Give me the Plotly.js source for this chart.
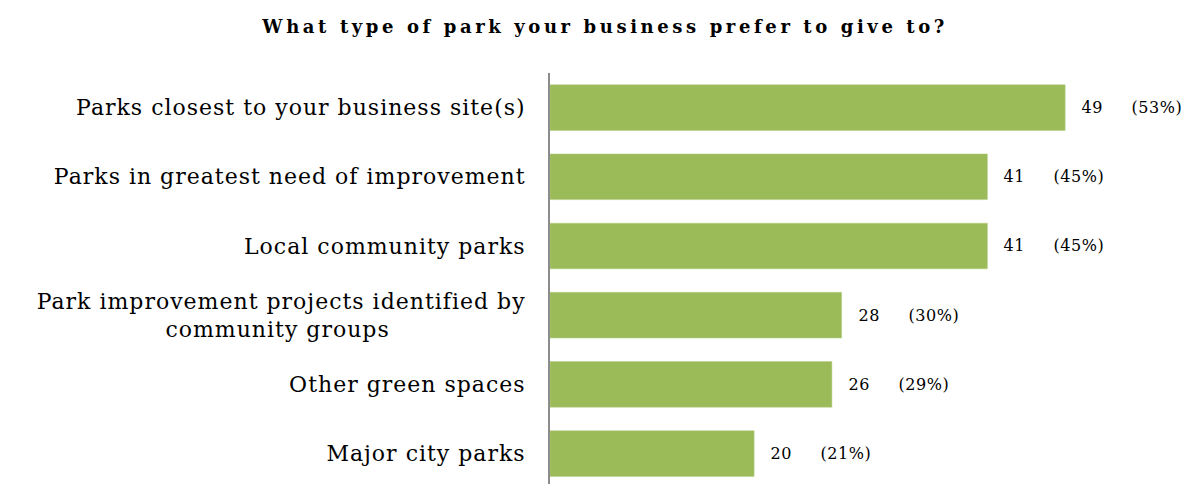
<!DOCTYPE html>
<html>
<head>
<meta charset="utf-8">
<script src="https://cdn.plot.ly/plotly-3.0.1.min.js"></script>
<style>
  html, body { margin: 0; padding: 0; background: #fff; }
  #chart { width: 1196px; height: 484px; }
  #chart .ytick text { letter-spacing: 1px; }
  #chart .gtitle { letter-spacing: 3.6px; }
  #chart .annotation-text { letter-spacing: 0.6px; }
</style>
</head>
<body>
<div id="chart"></div>
<script>
// Data (top to bottom)
const categories = [
  "Parks closest to your business site(s)",
  "Parks in greatest need of improvement",
  "Local community parks",
  "Park improvement projects identified by<br>community groups",
  "Other green spaces",
  "Major city parks"
];
const counts = [49, 41, 41, 28, 26, 20];
const percents = [53, 45, 45, 30, 29, 21];

// second line of the wrapped label is centred under the first line
const NB = "\u00A0";
const tickText = categories.map(c => c.replace(/<br>(.*)$/, (m, s) => "<br>" + s + NB.repeat(17)));

const labelText = counts.map((c, i) => c + NB.repeat(5) + "(" + percents[i] + "%)");

const trace = {
  type: "bar",
  orientation: "h",
  y: categories,
  x: percents,
  marker: { color: "#9BBB59", line: { color: "#B4CC84", width: 0.5 } },
  width: 0.66,
  hoverinfo: "skip"
};

const annotations = categories.map((cat, i) => ({
  x: percents[i],
  y: cat,
  xref: "x",
  yref: "y",
  text: labelText[i],
  showarrow: false,
  xanchor: "left",
  yanchor: "middle",
  xshift: 18,
  font: { family: "DejaVu Serif", size: 16, color: "#000" }
}));

const layout = {
  width: 1196,
  height: 484,
  margin: { l: 550, r: 0, t: 73, b: 0 },
  paper_bgcolor: "#ffffff",
  plot_bgcolor: "#ffffff",
  showlegend: false,
  title: {
    text: "<b>What type of park your business prefer to give to?</b>",
    font: { family: "DejaVu Serif", size: 18, color: "#000" },
    xref: "container",
    x: 0.506,
    xanchor: "center",
    yref: "container",
    y: 0.944,
    yanchor: "middle"
  },
  xaxis: {
    range: [0, 66.46],
    showgrid: false,
    zeroline: false,
    showline: false,
    showticklabels: false,
    ticks: ""
  },
  yaxis: {
    type: "category",
    categoryorder: "array",
    categoryarray: categories,
    tickmode: "array",
    tickvals: categories,
    ticktext: tickText,
    range: [5.44, -0.5],
    showgrid: false,
    zeroline: false,
    showline: true,
    linecolor: "#8c8c8c",
    linewidth: 2,
    ticks: "",
    ticklabelstandoff: 18,
    tickfont: { family: "DejaVu Serif", size: 22, color: "#000" }
  },
  annotations: annotations
};

Plotly.newPlot("chart", [trace], layout, { staticPlot: true, displayModeBar: false });
</script>
</body>
</html>
